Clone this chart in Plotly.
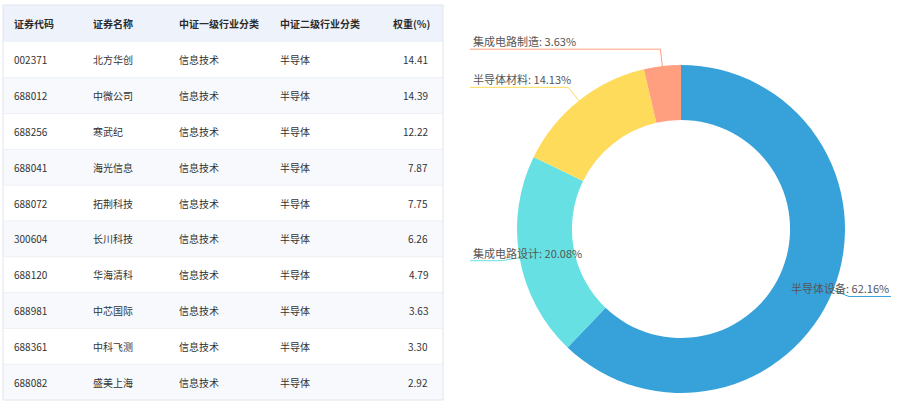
import math
import plotly.graph_objects as go

# ---------------- data ----------------
headers = ["证券代码", "证券名称", "中证一级行业分类", "中证二级行业分类", "权重(%)"]
codes = ["002371", "688012", "688256", "688041", "688072",
         "300604", "688120", "688981", "688361", "688082"]
names = ["北方华创", "中微公司", "寒武纪", "海光信息", "拓荆科技",
         "长川科技", "华海清科", "中芯国际", "中科飞测", "盛美上海"]
level1 = ["信息技术"] * 10
level2 = ["半导体"] * 10
weights = [14.41, 14.39, 12.22, 7.87, 7.75, 6.26, 4.79, 3.63, 3.30, 2.92]

pie_labels = ["半导体设备", "集成电路设计", "半导体材料", "集成电路制造"]
pie_values = [62.16, 20.08, 14.13, 3.63]
pie_colors = ["#37A2DA", "#67E0E3", "#FFDB5C", "#FF9F7F"]

# ---------------- layout constants (pixels) ----------------
W, H = 900, 412
FONT = "Microsoft YaHei, Noto Sans CJK SC, sans-serif"


def px(x):
    return x / W


def py(y):
    return 1 - y / H


# table geometry
T_LEFT, T_RIGHT, T_TOP = 3, 443, 5
HEADER_H = 37
ROW_H = 35.8
col_x = [13, 92, 178, 279, 430]           # text anchor x for each column
col_anchor = ["left", "left", "left", "left", "right"]
TXT = "#333333"

# donut geometry
CX, CY, R_OUT = 681, 229, 164
HOLE = 0.665

fig = go.Figure()

fig.add_trace(go.Pie(
    labels=pie_labels,
    values=pie_values,
    marker=dict(colors=pie_colors, line=dict(width=0)),
    hole=HOLE,
    sort=False,
    direction="clockwise",
    rotation=0,
    textinfo="none",
    hoverinfo="label+percent",
    showlegend=False,
    domain=dict(x=[px(CX - R_OUT), px(CX + R_OUT)],
                y=[py(CY + R_OUT), py(CY - R_OUT)]),
))

shapes = []
annotations = []

# ---- table ----
n = len(codes)
t_bottom = T_TOP + HEADER_H + n * ROW_H
shapes.append(dict(type="rect", xref="paper", yref="paper", layer="below",
                   x0=px(T_LEFT), x1=px(T_RIGHT), y0=py(T_TOP + HEADER_H), y1=py(T_TOP),
                   line=dict(width=0), fillcolor="#EEF3FB"))
columns = [codes, names, level1, level2, ["%.2f" % w for w in weights]]
for i in range(n):
    top = T_TOP + HEADER_H + i * ROW_H
    fill = "#FFFFFF" if i % 2 == 0 else "#F7F9FC"
    shapes.append(dict(type="rect", xref="paper", yref="paper", layer="below",
                       x0=px(T_LEFT), x1=px(T_RIGHT), y0=py(top + ROW_H), y1=py(top),
                       line=dict(width=0), fillcolor=fill))
    if i > 0:
        shapes.append(dict(type="line", xref="paper", yref="paper", layer="below",
                           x0=px(T_LEFT), x1=px(T_RIGHT), y0=py(top), y1=py(top),
                           line=dict(color="#EDF0F4", width=1)))
    for j, col in enumerate(columns):
        annotations.append(dict(
            xref="paper", yref="paper",
            x=px(col_x[j] - (1 if j == 4 else 0)), y=py(top + ROW_H / 2),
            xanchor=col_anchor[j], yanchor="middle", align=col_anchor[j],
            text=col[i], showarrow=False, borderpad=0,
            font=dict(family=FONT, size=10, color=TXT)))
for j, h in enumerate(headers):
    annotations.append(dict(
        xref="paper", yref="paper",
        x=px(col_x[j] + (1 if j == 4 else 0)), y=py(T_TOP + HEADER_H / 2),
        xanchor=col_anchor[j], yanchor="middle", align=col_anchor[j],
        text="<b>%s</b>" % h, showarrow=False, borderpad=0,
        font=dict(family=FONT, size=10, color="#2B2B2B")))
shapes.append(dict(type="rect", xref="paper", yref="paper",
                   x0=px(T_LEFT), x1=px(T_RIGHT), y0=py(t_bottom), y1=py(T_TOP),
                   line=dict(color="#E0E4EB", width=1), fillcolor="rgba(0,0,0,0)"))

# ---- donut labels with leader lines ----
total = sum(pie_values)
start = 0.0
L1 = 17
for lab, val, col in zip(pie_labels, pie_values, pie_colors):
    span = val / total * 360
    mid = math.radians(start + span / 2)
    start += span
    dx, dy = math.sin(mid), -math.cos(mid)
    x0, y0 = CX + R_OUT * dx, CY + R_OUT * dy
    x1, y1 = CX + (R_OUT + L1) * dx, CY + (R_OUT + L1) * dy
    right = dx > 0
    x2 = 891 if right else 470
    path = "M %f %f L %f %f L %f %f" % (px(x0), py(y0), px(x1), py(y1), px(x2), py(y1))
    shapes.append(dict(type="path", xref="paper", yref="paper", path=path,
                       line=dict(color=col, width=1)))
    annotations.append(dict(
        xref="paper", yref="paper",
        x=px(x2 - 1) if right else px(x2 + 2), y=py(y1 + 1),
        xanchor="right" if right else "left", yanchor="bottom",
        align="right" if right else "left",
        text="%s: %.2f%%" % (lab, val), showarrow=False,
        font=dict(family=FONT, size=11, color="#555555"),
        borderpad=0,
    ))

fig.update_layout(
    width=W, height=H,
    margin=dict(l=0, r=0, t=0, b=0),
    paper_bgcolor="white", plot_bgcolor="white",
    xaxis=dict(visible=False), yaxis=dict(visible=False),
    shapes=shapes, annotations=annotations,
    font=dict(family=FONT),
)

fig.write_html("out.html")
